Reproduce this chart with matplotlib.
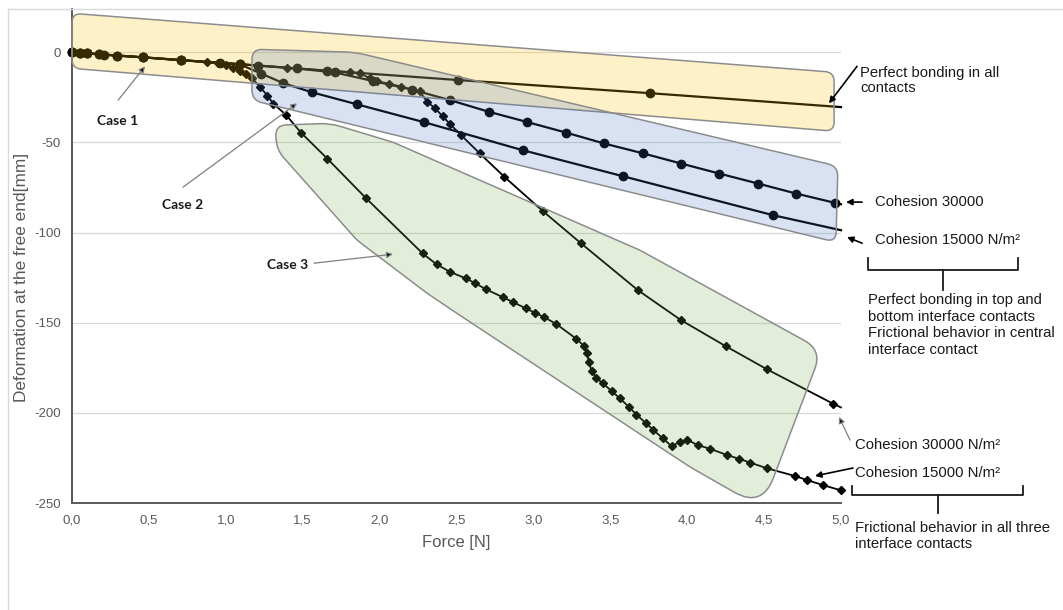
import numpy as np
import matplotlib
matplotlib.use('Agg')
import matplotlib.pyplot as plt
import matplotlib.ticker as ticker
from matplotlib.path import Path
from matplotlib.patches import PathPatch
from matplotlib.lines import Line2D

plt.rcParams['font.family'] = ['Liberation Sans', 'DejaVu Sans']

# --- data (force [N], deformation [mm]) ---
perfect_x = [0, 0.05, 0.1, 0.175, 0.29, 0.46, 0.71, 1.09, 1.66, 2.51, 3.76, 5.0]
perfect_y = [0, -0.3, -0.6, -1.1, -1.8, -2.8, -4.4, -6.6, -10.2, -15.4, -22.7, -30.4]

coh30_c2_x = [0, 0.05, 0.1, 0.21, 0.46, 0.71, 0.96, 1.21, 1.46, 1.71,
              1.96, 2.21, 2.46, 2.71, 2.96, 3.21, 3.46, 3.71, 3.96, 4.21,
              4.46, 4.71, 4.96, 5.0]
coh30_c2_y = [0, -0.3, -0.6, -1.3, -2.8, -4.3, -5.9, -7.4, -9.0, -11.2,
              -16.0, -20.7, -26.6, -33.0, -38.7, -44.5, -50.6, -56.0, -61.7, -67.3,
              -72.8, -78.4, -83.5, -84.3]

coh15_c2_x = [0, 0.05, 0.1, 0.175, 0.29, 0.46, 0.71, 1.09, 1.23, 1.37,
              1.56, 1.85, 2.29, 2.93, 3.58, 4.56, 5.0]
coh15_c2_y = [0, -0.3, -0.6, -1.1, -1.8, -2.8, -4.4, -6.7, -11.8, -17.0,
              -22.2, -28.8, -38.8, -54.3, -68.7, -90.4, -98.7]

coh30_c3_x = [0, 0.05, 0.1, 0.175, 0.29, 0.46, 0.71, 1.09, 1.4, 1.66,
              1.81, 1.87, 1.94, 1.98, 2.06, 2.14, 2.21, 2.26, 2.31, 2.36,
              2.41, 2.46, 2.53, 2.65, 2.81, 3.06, 3.31, 3.68, 3.96, 4.25,
              4.52, 4.95, 5.0]
coh30_c3_y = [0, -0.3, -0.6, -1.1, -1.8, -2.8, -4.4, -6.6, -8.6, -10.2,
              -11.0, -11.7, -14.5, -16.0, -17.4, -19.0, -20.7, -21.5, -27.6, -31.0,
              -35.5, -40.0, -46.0, -56.0, -69.0, -88.0, -106.0, -132.0, -148.6, -163.0,
              -175.9, -195.0, -197.0]

coh15_c3_x = [0, 0.05, 0.1, 0.175, 0.29, 0.46, 0.71,
              0.88, 0.95, 1.0, 1.05, 1.09, 1.13, 1.17, 1.22, 1.27, 1.31,
              1.39, 1.49, 1.66, 1.91, 2.28,
              2.37, 2.46, 2.56, 2.62, 2.69, 2.80, 2.87, 2.95, 3.01, 3.07,
              3.15, 3.28, 3.33, 3.35, 3.36, 3.38, 3.41, 3.45, 3.51, 3.56,
              3.62, 3.67, 3.73, 3.78, 3.84, 3.90, 3.95, 4.0, 4.07, 4.15,
              4.26, 4.34, 4.41, 4.52, 4.70, 4.78, 4.88, 5.0]
coh15_c3_y = [0, -0.3, -0.6, -1.1, -1.8, -2.8, -4.4,
              -5.4, -6.0, -7.0, -8.9, -10.5, -12.0, -14.4, -19.0, -24.0, -28.6,
              -34.6, -44.7, -59.0, -80.8, -111.6,
              -117.6, -121.9, -125.4, -128.0, -131.4, -135.8, -138.7, -142.0, -144.5, -146.9,
              -150.8, -159.0, -163.0, -167.0, -171.8, -177.0, -180.7, -183.5, -188.0, -191.8,
              -196.6, -201.0, -205.6, -209.5, -214.0, -218.6, -216.0, -215.0, -217.9, -220.0,
              -223.4, -225.6, -227.6, -230.8, -235.0, -237.3, -240.0, -243.0]

y_ticks = [0, -50, -100, -150, -200, -250]
x_ticks = [0.0, 0.5, 1.0, 1.5, 2.0, 2.5, 3.0, 3.5, 4.0, 4.5, 5.0]

# outlines of the highlight boxes (data coords)
case1_box = [(0.0, 21.6), (4.955, -11.1), (4.955, -43.8), (0.0, -8.9)]
case2_box = [(1.17, 1.7), (1.84, 0.0), (4.98, -63.2), (4.967, -105.3), (1.17, -26.6)]
case3_box = [(1.32, -40.5), (1.678, -39.4), (2.087, -49.9), (3.693, -109.8), (4.876, -165.2),
             (4.486, -252.8), (4.018, -230.0), (2.490, -144.1), (2.308, -133.6),
             (1.853, -104.2), (1.333, -54.3)]
case3_radius = [18, 10, 4, 4, 20, 32, 6, 4, 4, 4, 10]

GREY = '#595959'
TXT = '#1a1a1a'


def rounded_box(ax, corners, radius, **kw):
    """Polygon with rounded corners; rounding is done in pixel space."""
    disp = ax.transData.transform(np.asarray(corners, float))
    n = len(disp)
    if np.isscalar(radius):
        radius = [radius] * n
    verts, codes = [], []
    for i in range(n):
        p, a, b = disp[i], disp[i - 1], disp[(i + 1) % n]
        da, db = np.linalg.norm(a - p), np.linalg.norm(b - p)
        r = min(radius[i], 0.45 * da, 0.45 * db)
        verts += [p + (a - p) / da * r, p, p + (b - p) / db * r]
        codes += [Path.MOVETO if i == 0 else Path.LINETO, Path.CURVE3, Path.CURVE3]
    verts.append(verts[0])
    codes.append(Path.CLOSEPOLY)
    verts = ax.transData.inverted().transform(np.array(verts))
    ax.add_patch(PathPatch(Path(verts, codes), clip_on=False, **kw))


def arrow(ax, tail, head, color, lw, fc=None):
    ax.annotate('', xy=head, xytext=tail, annotation_clip=False,
                arrowprops=dict(arrowstyle='-|>', color=color, fc=fc or color, lw=lw,
                                shrinkA=0, shrinkB=0, mutation_scale=9))


def bracket(ax, x0, x1, top, bot, tip):
    mid = (x0 + x1) / 2
    ax.plot([x0, x0, x1, x1], [top, bot, bot, top], color=TXT, lw=1.3, clip_on=False)
    ax.plot([mid, mid], [bot, tip], color=TXT, lw=1.3, clip_on=False)


def no_last(xs):
    # the end point at 5,0 carries no marker in the original for most series
    return list(range(len(xs) - 1))


fig = plt.figure(figsize=(10.63, 6.10), dpi=100)
ax = fig.add_axes([72 / 1063, 107 / 610, 769 / 1063, 494 / 610])

ax.set_xlim(0, 5)
ax.set_ylim(-250, 24)

# series
ax.plot(perfect_x, perfect_y, '-o', color='black', lw=1.6, ms=6, zorder=2,
        markevery=no_last(perfect_x), clip_on=False)
ax.plot(coh30_c2_x, coh30_c2_y, '-o', color='black', lw=1.6, ms=6, zorder=2,
        markevery=no_last(coh30_c2_x), clip_on=False)
ax.plot(coh15_c2_x, coh15_c2_y, '-o', color='black', lw=1.6, ms=6, zorder=2,
        markevery=no_last(coh15_c2_x), clip_on=False)
ax.plot(coh30_c3_x, coh30_c3_y, '-D', color='black', lw=1.3, ms=4.2, zorder=2,
        markevery=no_last(coh30_c3_x), clip_on=False)
ax.plot(coh15_c3_x, coh15_c3_y, '-D', color='black', lw=1.3, ms=4.2, zorder=2, clip_on=False)

# axes styling
ax.yaxis.set_major_locator(ticker.FixedLocator(y_ticks))
ax.xaxis.set_major_locator(ticker.FixedLocator(x_ticks))
ax.xaxis.set_major_formatter(ticker.FuncFormatter(lambda v, p: f'{v:.1f}'.replace('.', ',')))
ax.yaxis.set_major_formatter(ticker.FuncFormatter(lambda v, p: f'{int(round(v))}'))
ax.tick_params(length=0, labelsize=9.5, colors=GREY)
ax.tick_params(axis='y', pad=8)
ax.tick_params(axis='x', pad=8)
ax.grid(axis='y', color='#d9d9d9', lw=0.9, zorder=0)
ax.set_axisbelow(True)
for s in ['top', 'right']:
    ax.spines[s].set_visible(False)
for s in ['left', 'bottom']:
    ax.spines[s].set_color(GREY)
    ax.spines[s].set_linewidth(1.4)

ax.set_xlabel('Force [N]', fontsize=12, color=GREY)
ax.xaxis.set_label_coords(0.5, -0.079)
ax.xaxis.label.set_va('center')
ax.set_ylabel('Deformation at the free end[mm]', fontsize=12.4, color=GREY)
ax.yaxis.set_label_coords(-0.0663, 0.457)
ax.yaxis.label.set_va('center')

# highlight boxes drawn over the curves (semi-transparent)
rounded_box(ax, case1_box, 9, fc=(1.0, 0.753, 0.0, 0.22), ec='#8c8c8c', lw=1.1, zorder=3)
rounded_box(ax, case2_box, 10, fc=(0.267, 0.447, 0.769, 0.2), ec='#8c8c8c', lw=1.1, zorder=3)
rounded_box(ax, case3_box, case3_radius, fc=(0.439, 0.678, 0.278, 0.2), ec='#8c8c8c', lw=1.1, zorder=3)

# case labels
case_font = dict(fontsize=10, fontweight='bold', family=['Lato', 'DejaVu Sans'], color=TXT,
                 ha='center', va='center', zorder=5)
ax.text(0.293, -38.2, 'Case 1', **case_font)
ax.text(0.722, -84.8, 'Case 2', **case_font)
ax.text(1.404, -118.1, 'Case 3', **case_font)
arrow(ax, (0.30, -26.6), (0.475, -7.8), '#7f7f7f', 0.9, 'black')
arrow(ax, (0.722, -74.8), (1.463, -28.3), '#7f7f7f', 0.9, 'black')
arrow(ax, (1.573, -117.0), (2.087, -112.0), '#7f7f7f', 0.9, 'black')

# right-hand annotations
note = dict(fontsize=10.7, color=TXT, ha='left', va='center', clip_on=False)
ax.text(5.124, -15.8, 'Perfect bonding in all\ncontacts', linespacing=1.12, **note)
arrow(ax, (5.104, -7.8), (4.922, -28.3), 'black', 1.2)

ax.text(5.221, -83.1, 'Cohesion 30000', **note)
arrow(ax, (5.137, -83.1), (5.033, -83.1), 'black', 1.2)
ax.text(5.221, -104.2, 'Cohesion 15000 N/m²', **note)
arrow(ax, (5.137, -105.9), (5.039, -102.5), 'black', 1.2)
bracket(ax, 5.176, 6.151, -114.2, -120.8, -131.9)
ax.text(5.176, -151.3, 'Perfect bonding in top and\nbottom interface contacts\n'
        'Frictional behavior in central\ninterface contact', linespacing=1.22, **note)

ax.text(5.091, -217.8, 'Cohesion 30000 N/m²', **note)
arrow(ax, (5.059, -215.1), (4.987, -202.3), '#7f7f7f', 0.9, 'black')
ax.text(5.091, -233.4, 'Cohesion 15000 N/m²', **note)
arrow(ax, (5.078, -230.6), (4.831, -235.0), 'black', 1.2)
bracket(ax, 5.072, 6.183, -240.6, -245.6, -255.5)
ax.text(5.091, -268.3, 'Frictional behavior in all three\ninterface contacts',
        linespacing=1.22, **note)

# chart-area frame (partly cropped in the original)
fig.add_artist(Line2D([8 / 1063, 1], [1 - 9 / 610, 1 - 9 / 610], transform=fig.transFigure,
                      color='#d9d9d9', lw=1))
fig.add_artist(Line2D([8 / 1063, 8 / 1063], [0, 1 - 9 / 610], transform=fig.transFigure,
                      color='#d9d9d9', lw=1))

fig.savefig('out.png', dpi=100)
